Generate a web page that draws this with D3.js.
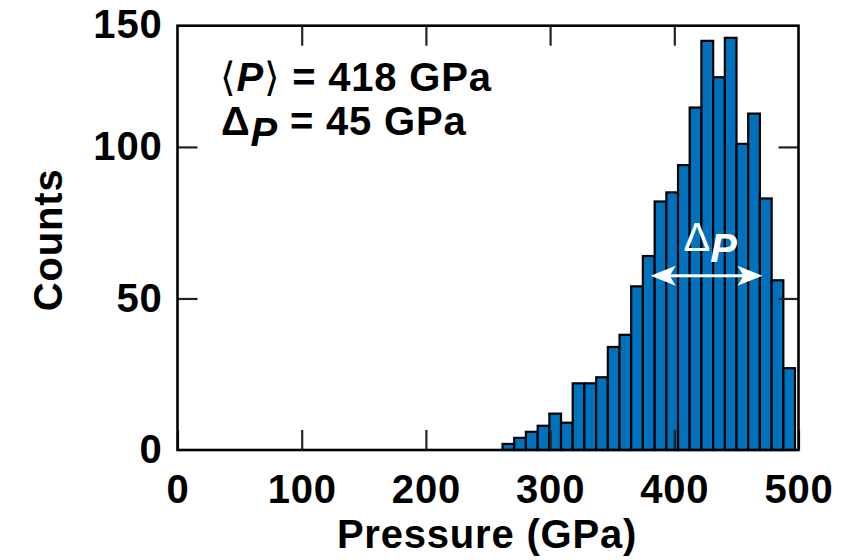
<!DOCTYPE html>
<html>
<head>
<meta charset="utf-8">
<script src="https://cdn.jsdelivr.net/npm/d3@7"></script>
<style>
  html, body { margin: 0; padding: 0; background: #fff; }
  svg { display: block; font-family: "Liberation Sans", Arial, Helvetica, sans-serif; }
</style>
</head>
<body>
<svg id="chart" width="862" height="560"></svg>
<script>
// ---- data ----
const binEdges = [261.7, 271.1, 280.5, 290.0, 299.4, 308.8, 318.2, 327.6, 337.1, 346.5,
                  355.9, 365.3, 374.7, 384.2, 393.6, 403.0, 412.4, 421.8, 431.3, 440.7,
                  450.1, 459.5, 468.9, 478.4, 487.8, 497.2];
const counts = [2, 4, 6, 8, 12, 9, 22, 22, 24, 34, 38, 54, 64, 82, 85, 94, 113, 135, 123, 136,
                101, 111, 83, 56, 27];
const xTicks = [0, 100, 200, 300, 400, 500];
const yTicks = [0, 50, 100];
const yTopLabel = "150";
const xDomain = [0, 500];
const yDomain = [0, 140];
const meanP = 418;
const deltaP = 45;
const arrowSpan = [381, 471];   // GPa, ends of the Δ_P arrow
const arrowLevel = 57.5;        // counts, height of the arrow

// ---- layout ----
const svg = d3.select("#chart");
const L = 177.5, R = 798.5, T = 25.7, B = 450;
const x = d3.scaleLinear().domain(xDomain).range([L, R]);
const y = d3.scaleLinear().domain(yDomain).range([B, T]);
const barFill = "#0072bd";
const fs = 40;
const ls = 0.8;

// bars
const bins = counts.map((c, i) => ({x0: binEdges[i], x1: binEdges[i + 1], c}));
svg.append("g").selectAll("rect").data(bins).join("rect")
  .attr("x", d => x(d.x0))
  .attr("y", d => y(d.c))
  .attr("width", d => x(d.x1) - x(d.x0))
  .attr("height", d => y(0) - y(d.c))
  .attr("fill", barFill)
  .attr("stroke", "#000")
  .attr("stroke-width", 2.2);

// axes with inward ticks on all four sides
const tickLen = 20;
function styleAxis(g) {
  g.select(".domain").remove();
  g.selectAll(".tick line").attr("stroke", "#222").attr("stroke-width", 2.2);
  g.selectAll(".tick text").attr("font-size", fs).attr("font-weight", "bold")
    .attr("letter-spacing", ls)
    .attr("fill", "#000").attr("font-family", "'Liberation Sans', Arial, sans-serif");
}
const xBottom = svg.append("g").attr("transform", `translate(0,${B})`)
  .call(d3.axisBottom(x).tickValues(xTicks).tickSize(-tickLen).tickPadding(25).tickFormat(d3.format("d")));
styleAxis(xBottom);
const xTop = svg.append("g").attr("transform", `translate(0,${T})`)
  .call(d3.axisTop(x).tickValues(xTicks.slice(1, -1)).tickSize(-tickLen).tickFormat(""));
styleAxis(xTop);
const yLeft = svg.append("g").attr("transform", `translate(${L},0)`)
  .call(d3.axisLeft(y).tickValues(yTicks).tickSize(-tickLen).tickPadding(15).tickFormat(d3.format("d")));
styleAxis(yLeft);
yLeft.selectAll(".tick line").filter(d => d === 0).remove();
const yRight = svg.append("g").attr("transform", `translate(${R},0)`)
  .call(d3.axisRight(y).tickValues(yTicks.slice(1)).tickSize(-tickLen).tickFormat(""));
styleAxis(yRight);
// top-left label as printed in the reference
svg.append("text").attr("x", L - 15).attr("y", y(yDomain[1]) + 2)
  .attr("text-anchor", "end").attr("dominant-baseline", "middle")
  .attr("font-size", fs).attr("font-weight", "bold").attr("letter-spacing", ls).text(yTopLabel);

// frame
svg.append("rect").attr("x", L).attr("y", T).attr("width", R - L).attr("height", B - T)
  .attr("fill", "none").attr("stroke", "#000").attr("stroke-width", 2.6);

// axis titles
svg.append("text").attr("x", (L + R) / 2 - 1).attr("y", 548)
  .attr("text-anchor", "middle").attr("font-size", fs).attr("font-weight", "bold")
  .attr("letter-spacing", ls).text("Pressure (GPa)");
svg.append("text").attr("transform", `translate(62,${(T + B) / 2 + 2}) rotate(-90)`)
  .attr("text-anchor", "middle").attr("font-size", fs).attr("font-weight", "bold")
  .attr("letter-spacing", ls).text("Counts");

// annotation text
const t1 = svg.append("text").attr("x", 220).attr("y", 91).attr("font-size", fs)
  .attr("font-weight", "bold").attr("letter-spacing", ls);
t1.append("tspan").attr("font-weight", "normal").attr("font-family", "'DejaVu Sans', sans-serif").text("\u27E8");
t1.append("tspan").attr("font-style", "italic").text("P");
t1.append("tspan").attr("font-weight", "normal").attr("font-family", "'DejaVu Sans', sans-serif").text("\u27E9");
t1.append("tspan").text(` = ${meanP} GPa`);

const t2 = svg.append("text").attr("x", 221).attr("y", 135).attr("font-size", fs)
  .attr("font-weight", "bold").attr("letter-spacing", ls);
t2.append("tspan").text("\u0394");
t2.append("tspan").attr("font-style", "italic").attr("dy", 11).text("P");
t2.append("tspan").attr("dy", -11).text(` = ${deltaP} GPa`);

// Δ_P arrow (white, double-headed)
const ax0 = x(arrowSpan[0]), ax1 = x(arrowSpan[1]), ay = y(arrowLevel);
const headL = 25, headW = 10, notch = 6;
svg.append("line").attr("x1", ax0 + 10).attr("x2", ax1 - 10).attr("y1", ay).attr("y2", ay)
  .attr("stroke", "#fff").attr("stroke-width", 3);
svg.append("path")
  .attr("d", `M${ax0},${ay} L${ax0 + headL},${ay - headW} L${ax0 + headL - notch},${ay} L${ax0 + headL},${ay + headW} Z`)
  .attr("fill", "#fff");
svg.append("path")
  .attr("d", `M${ax1},${ay} L${ax1 - headL},${ay - headW} L${ax1 - headL + notch},${ay} L${ax1 - headL},${ay + headW} Z`)
  .attr("fill", "#fff");
const t3 = svg.append("text").attr("x", (ax0 + ax1) / 2 - 23).attr("y", ay - 25)
  .attr("font-size", fs).attr("fill", "#fff");
t3.append("tspan").text("\u0394");
t3.append("tspan").attr("font-weight", "bold").attr("font-style", "italic").attr("dy", 11).text("P");
</script>
</body>
</html>
